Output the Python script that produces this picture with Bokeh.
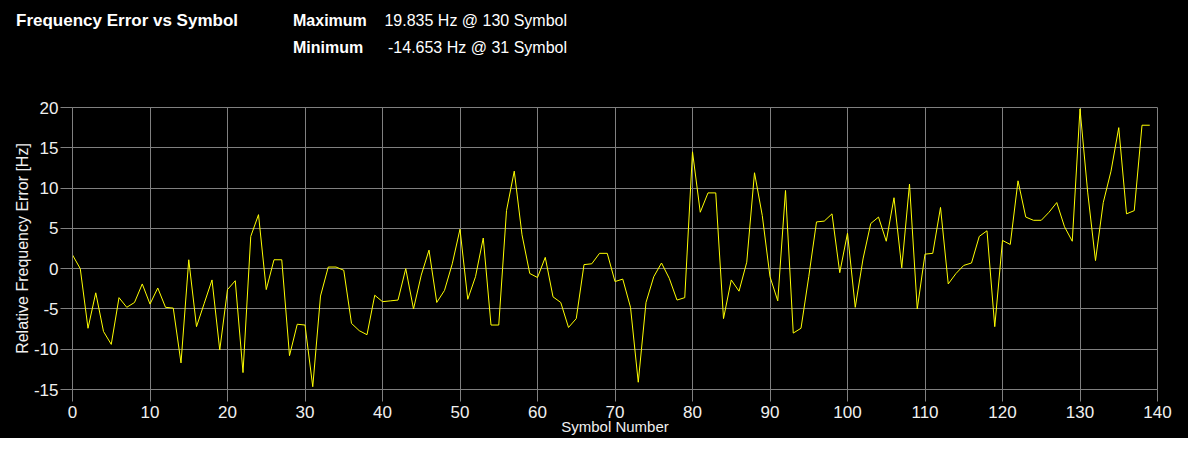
from bokeh.plotting import figure
from bokeh.layouts import column
from bokeh.models import FixedTicker, Range1d, Div
from bokeh.embed import file_html
from bokeh.resources import INLINE

# ---- data ----
symbols = list(range(140))
freq_error = [
    1.7, 0.0, -7.4, -3.0, -7.8, -9.4, -3.6, -4.8, -4.2, -1.9,
    -4.4, -2.4, -4.8, -4.9, -11.7, 1.1, -7.2, -4.3, -1.4, -10.1,
    -2.6, -1.5, -12.9, 4.0, 6.7, -2.6, 1.1, 1.1, -10.8, -6.9,
    -7.0, -14.653, -3.4, 0.2, 0.2, -0.2, -6.8, -7.7, -8.2, -3.3,
    -4.1, -4.0, -3.9, 0.0, -5.0, -0.8, 2.3, -4.2, -2.7, 0.6,
    4.9, -3.8, -1.0, 3.8, -7.0, -7.0, 7.2, 12.1, 4.2, -0.6,
    -1.1, 1.4, -3.5, -4.2, -7.3, -6.2, 0.5, 0.6, 1.9, 1.9,
    -1.6, -1.3, -4.8, -14.1, -4.2, -1.0, 0.7, -1.2, -3.9, -3.6,
    14.5, 7.0, 9.4, 9.4, -6.2, -1.4, -2.8, 0.8, 11.9, 6.6,
    -1.0, -4.0, 9.7, -8.0, -7.4, -1.0, 5.8, 5.9, 6.8, -0.5,
    4.4, -4.8, 1.2, 5.6, 6.4, 3.4, 8.8, 0.1, 10.5, -5.0,
    1.8, 1.9, 7.6, -1.9, -0.6, 0.4, 0.7, 4.0, 4.7, -7.2,
    3.5, 3.0, 10.9, 6.4, 6.0, 6.0, 7.0, 8.2, 5.2, 3.4,
    19.835, 9.4, 1.0, 8.2, 12.1, 17.5, 6.8, 7.2, 17.8, 17.8,
]
x_ticks = list(range(0, 141, 10))
y_ticks = list(range(-15, 21, 5))
y_tick_labels = ["-15", "-10", "-5", "0", "5", "10", "15", "20"]

title_text = "Frequency Error vs Symbol"
max_name = "Maximum"
max_text = "19.835 Hz @ 130 Symbol"
min_name = "Minimum"
min_text = "-14.653 Hz @ 31 Symbol"
x_label = "Symbol Number"
y_label = "Relative Frequency Error [Hz]"

GRID = "#808080"
TXT = "#f0f0f0"
FONT = "Liberation Sans"

W = 1188
HEADER_H = 95
MAIN_H = 438 - HEADER_H


# ---- header (title + max / min read-outs) ----
def span(text, left=None, right=None, top=0, size=16, bold=False):
    pos = f"left:{left}px;" if left is not None else f"right:{right}px;"
    weight = "bold" if bold else "normal"
    return (f'<span style="position:absolute;{pos}top:{top}px;font-size:{size}px;'
            f'font-weight:{weight};line-height:20px;white-space:nowrap;">{text}</span>')


header_html = (
    f'<div style="position:relative;width:{W}px;height:{HEADER_H}px;background:#000;'
    f"color:#fff;font-family:'{FONT}',Arial,sans-serif;overflow:hidden;\">"
    + span(title_text, left=16, top=11, size=17, bold=True)
    + span(max_name, left=293, top=11, size=16, bold=True)
    + span(max_text, right=W - 567, top=11, size=16)
    + span(min_name, left=293, top=38, size=16, bold=True)
    + span(min_text, right=W - 567, top=38, size=16)
    + "</div>"
)
head = Div(text=header_html, width=W, height=HEADER_H, margin=0,
           styles={"background-color": "black"})

# ---- main chart ----
p = figure(width=W, height=MAIN_H, output_backend="svg", toolbar_location=None,
           x_range=Range1d(0, 140), y_range=Range1d(-15, 20),
           min_border_left=72, min_border_right=31, min_border_top=12, min_border_bottom=49,
           background_fill_color="black", border_fill_color="black",
           outline_line_color=GRID, outline_line_width=1, margin=0)

p.line(symbols, freq_error, line_color="#ffff00", line_width=1)

p.xaxis.ticker = FixedTicker(ticks=x_ticks)
p.yaxis.ticker = FixedTicker(ticks=y_ticks)
p.yaxis.major_label_overrides = dict(zip(y_ticks, y_tick_labels))
p.xgrid.ticker = FixedTicker(ticks=x_ticks)
p.ygrid.ticker = FixedTicker(ticks=y_ticks)
for g in (p.xgrid, p.ygrid):
    g.grid_line_color = GRID
    g.grid_line_width = 1

for ax in (p.xaxis, p.yaxis):
    ax.axis_line_color = GRID
    ax.major_tick_line_color = GRID
    ax.minor_tick_line_color = None
    ax.major_tick_in = 0
    ax.major_tick_out = 12
    ax.major_label_text_color = TXT
    ax.major_label_text_font = FONT
    ax.major_label_text_font_size = "17px"
    ax.axis_label_text_color = TXT
    ax.axis_label_text_font = FONT
    ax.axis_label_text_font_style = "normal"

p.xaxis.major_label_standoff = 4
p.yaxis.major_label_standoff = 2

p.xaxis.axis_label = x_label
p.xaxis.axis_label_text_font_size = "15px"
p.xaxis.axis_label_standoff = -3

p.yaxis.axis_label = y_label
p.yaxis.axis_label_text_font_size = "16px"
p.yaxis.axis_label_standoff = 0

layout = column(head, p, spacing=0, styles={"background-color": "black"})

open("out.html", "w").write(file_html(layout, INLINE))
